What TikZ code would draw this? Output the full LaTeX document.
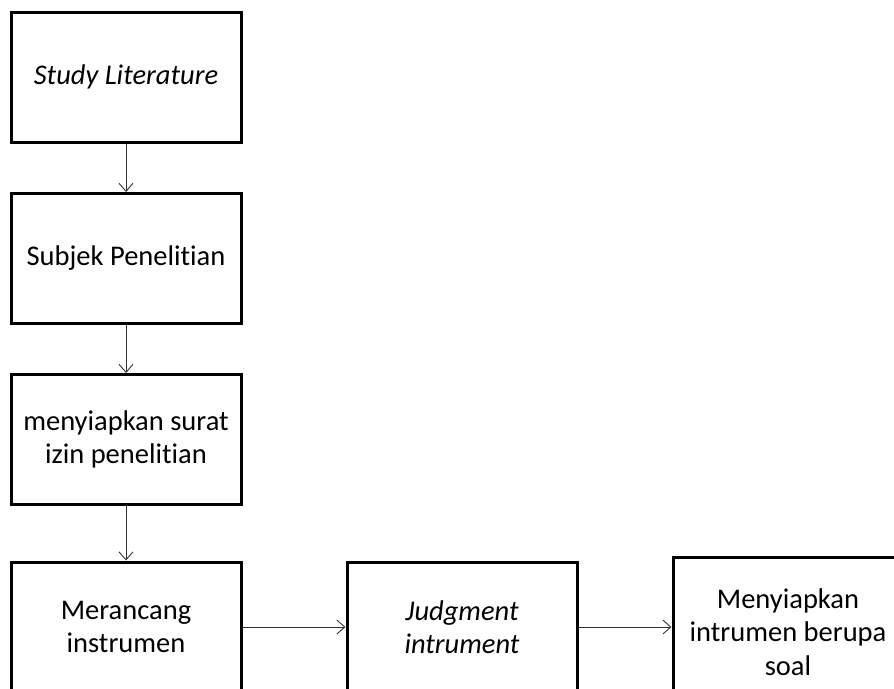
\documentclass[tikz,border=0pt]{standalone}
\usepackage{fontspec}
\setmainfont[Ligatures={NoCommon,NoRare}]{Carlito}
\usetikzlibrary{arrows.meta}

\begin{document}
\begin{tikzpicture}[x=1pt,y=-1pt,
	kotak/.style={draw,line width=3pt,minimum width=230pt,minimum height=130pt,align=center,inner sep=0pt,font=\fontsize{28.5}{33.5}\selectfont},
	panah/.style={->,line width=0.9pt,black!80},
	>={Straight Barb[length=8pt,width=14pt]}]
	\useasboundingbox (0,0) rectangle (894,688);
	\clip (0,0) rectangle (894,688);
	%\draw[help lines] (0,0) grid[step=50] (894,688);
	\node[kotak] (studi) at (126,77) {\textit{Study Literature}};
	\node[kotak] (subjek) at (126,258.5) {Subjek Penelitian};
	\node[kotak] (surat) at (126,439.5) {menyiapkan surat\\izin penelitian};
	\node[kotak] (rancang) at (126,627) {Merancang\\instrumen};
	\node[kotak] (judgment) at (462,627) {\textit{Judgment}\\\textit{intrument}};
	\node[kotak,minimum height=150pt] (soal) at (788,632) {Menyiapkan\\intrumen berupa\\soal};

	\draw[panah] (studi) -- (subjek);
	\draw[panah] (subjek) -- (surat);
	\draw[panah] (surat) -- (rancang);
	\draw[panah] (rancang) -- (judgment);
	\draw[panah] (judgment.east) -- (judgment.east -| soal.west);
\end{tikzpicture}
\end{document}
